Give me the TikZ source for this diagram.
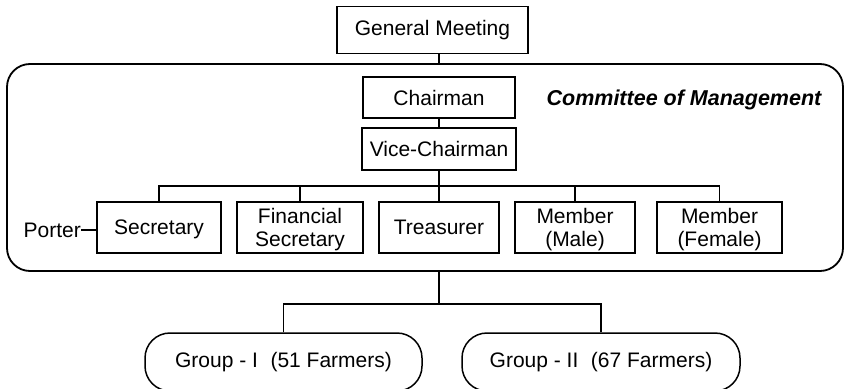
\documentclass[tikz,border=0pt]{standalone}
\usepackage{fontspec}
\setmainfont{Liberation Sans}
\usetikzlibrary{calc}
\begin{document}
\begin{tikzpicture}[x=1pt,y=-1pt,
  every node/.style={font=\fontsize{21}{23}\selectfont, inner sep=0pt, align=center},
  box/.style={draw, line width=1.4pt},
  officer/.style={box, minimum height=51pt, text depth=-4pt},
  group/.style={draw, line width=1.5pt, rounded corners=25pt, minimum height=58pt},
  link/.style={line width=1.5pt}]
\useasboundingbox (0,0) rectangle (845,388);
\clip (0,0) rectangle (845,388);

% committee frame
\node[draw, line width=1.8pt, rounded corners=23pt, minimum width=836pt, minimum height=207pt] (com) at (425,167.5) {};
\node[font=\fontsize{21.5}{23}\selectfont\bfseries\itshape] (comlbl) at (684,100) {Committee of Management};

% top of the hierarchy
\node[box, minimum width=191pt, minimum height=47pt] (gm) at (432.5,30) {General Meeting};
\node[box, minimum width=152pt, minimum height=41pt] (ch) at (439,97.5) {Chairman};
\node[box, minimum width=154pt, minimum height=42pt] (vc) at (439,149) {Vice-Chairman};

% officers
\node[officer, minimum width=124pt] (sec) at (159,227.5) {Secretary};
\node[officer, minimum width=126pt] (fs)  at (300,227.5) {Financial\\Secretary};
\node[officer, minimum width=120pt] (tr)  at (439,227.5) {Treasurer};
\node[officer, minimum width=120pt] (mm)  at (575,227.5) {Member\\(Male)};
\node[officer, minimum width=125pt] (mf)  at (719.5,227.5) {Member\\(Female)};
\node[anchor=east] (por) at (81,230) {Porter};

% farmer groups
\node[group, minimum width=277pt] (g1) at (283.5,362) {Group - I\hspace{0.6em}(51 Farmers)};
\node[group, minimum width=278pt] (g2) at (601,362) {Group - II\hspace{0.6em}(67 Farmers)};

% connectors
\coordinate (bus) at ($(vc.south)!0.5!(tr.north)$);
\coordinate (gbus) at (439,304);
\draw[link] (gm.south -| ch) -- (com.north -| ch);
\draw[link] (ch.south) -- (vc.north);
\draw[link] (vc.south) -- (tr.north);
\draw[link] (sec.north) |- (bus) -| (mf.north);
\draw[link] (fs.north) -- (fs.north |- bus);
\draw[link] (mm.north) -- (mm.north |- bus);
\draw[link] (por.east) -- (por.east -| sec.west);
\draw[link] (com.south -| gbus) -- (gbus);
\draw[link] (g1.north) |- (gbus) -| (g2.north);
\end{tikzpicture}
\end{document}
